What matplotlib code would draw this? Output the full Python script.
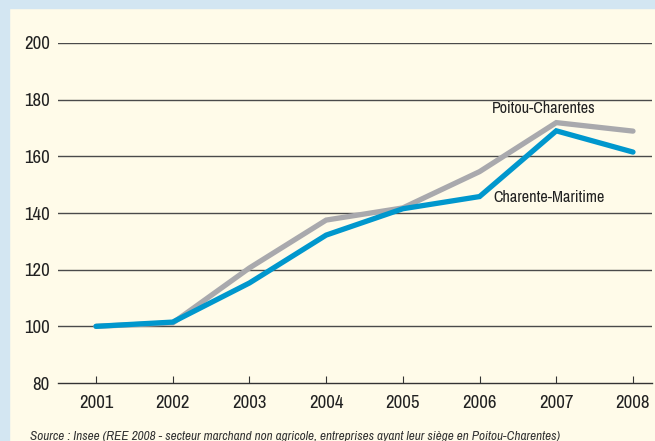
import matplotlib
matplotlib.use("Agg")
import matplotlib.pyplot as plt
from matplotlib import font_manager
import matplotlib.patches as mpatches

years = [2001, 2002, 2003, 2004, 2005, 2006, 2007, 2008]
poitou = [100, 101.2, 120.6, 137.5, 141.8, 154.6, 171.9, 168.9]
charente = [100, 101.5, 115.3, 132.2, 141.5, 145.8, 169.0, 161.5]
yticks = [80, 100, 120, 140, 160, 180, 200]
source = "Source : Insee (REE 2008 - secteur marchand non agricole, entreprises ayant leur siège en Poitou-Charentes)"

names = {f.name for f in font_manager.fontManager.ttflist}
fam = next((n for n in ["Archivo Narrow", "Roboto Condensed", "PT Sans Narrow", "Liberation Sans"] if n in names), "DejaVu Sans")
plt.rcParams['font.family'] = [fam, 'DejaVu Sans']

W, H = 655, 441
fig = plt.figure(figsize=(W/100, H/100), dpi=100)
fig.patch.set_facecolor("#FFFBE9")
fig.add_artist(mpatches.Rectangle((0, 0), 9/W, 1, transform=fig.transFigure, color="#D3E6F2", zorder=0))
fig.add_artist(mpatches.Rectangle((0, 1-7.5/H), 1, 7.5/H, transform=fig.transFigure, color="#D3E6F2", zorder=0))

ax = fig.add_axes([58/W, 1-383/H, (652-58)/W, (383-43)/H])
ax.set_facecolor("none")
ax.set_xlim(2001 - 38/76.71, 2008 + 19/76.71)
ax.set_ylim(80, 200)

for y in yticks[1:]:
    ax.axhline(y, color="#4a4a4a", lw=1.0, zorder=1)

ax.plot(years, poitou, color="#A9A9AD", lw=3.8, solid_capstyle="round", solid_joinstyle="miter", zorder=3)
ax.plot(years, charente, color="#0097CD", lw=3.8, solid_capstyle="round", solid_joinstyle="miter", zorder=4)

for s in ["top", "right", "left"]:
    ax.spines[s].set_visible(False)
ax.spines["bottom"].set_color("#333333")
ax.spines["bottom"].set_linewidth(1.0)

ax.set_xticks(years)
ax.set_xticklabels([str(y) for y in years])
ax.set_yticks(yticks)
ax.tick_params(axis="x", direction="in", length=5, width=0.8, color="#333333", pad=9, labelsize=13.5, labelcolor="#222222")
ax.tick_params(axis="y", length=0, pad=5.8, labelsize=13.5, labelcolor="#222222")

ax.text(2006.84, 177.0, "Poitou-Charentes", ha="center", va="center", fontsize=11.6, color="#222222")
ax.text(2006.18, 145.4, "Charente-Maritime", ha="left", va="center", fontsize=11.6, color="#222222")

fig.text(30/W, 1-436/H, source, fontsize=9.5, style="italic", color="#333333", ha="left", va="center")

fig.savefig("out.png", dpi=100, facecolor=fig.get_facecolor())
